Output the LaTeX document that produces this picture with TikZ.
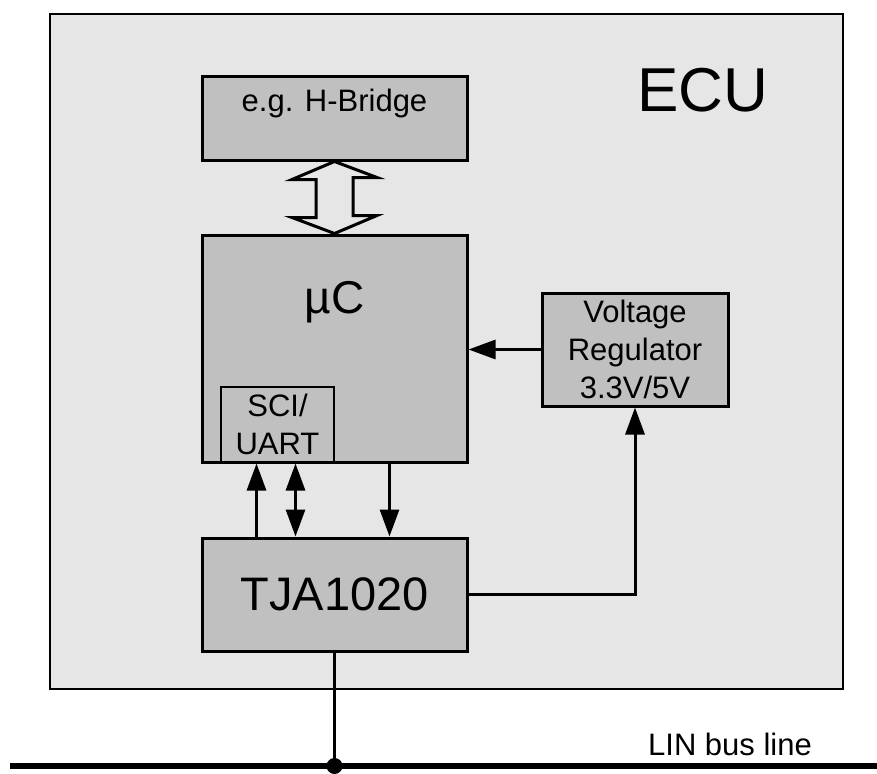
\documentclass[tikz,border=0pt]{standalone}
\usepackage{fontspec}
\setmainfont{Liberation Sans}
\usetikzlibrary{arrows.meta}
\definecolor{ecugray}{RGB}{230,230,230}
\definecolor{boxgray}{RGB}{192,192,192}

\begin{document}
\begin{tikzpicture}[x=1pt,y=-1pt,
    block/.style={draw,line width=3pt,fill=boxgray,inner sep=0pt},
    txt/.style={font=\fontsize{31}{38}\selectfont,align=center},
    arr/.style={line width=3pt,-{Triangle[length=27pt,width=19pt]}},
    darr/.style={line width=3pt,{Triangle[length=27pt,width=19pt]}-{Triangle[length=27pt,width=19pt]}}]
    \useasboundingbox (0,0) rectangle (877,773);
    \node[draw,line width=2pt,fill=ecugray,minimum width=793pt,minimum height=675pt] (ecu) at (446.5,351.5) {};
    \node[font=\fontsize{62}{70}\selectfont] (ecutext) at (703,90) {ECU};

    \node[block,minimum width=265pt,minimum height=83pt] (hbridge) at (334.5,118.5) {};
    \node[txt] (hbtext) at (334.5,103) {e.g. H-Bridge};

    \node[block,minimum width=265pt,minimum height=227pt] (uc) at (334.5,348.5) {};
    \node[font=\fontsize{46}{52}\selectfont] (uctext) at (334.5,302) {µC};
    \node[draw,line width=1.5pt,fill=boxgray,inner sep=0pt,minimum width=113pt,minimum height=75pt,txt] (sci) at (277.5,424.5) {SCI/\\UART};

    \node[block,txt,minimum width=186pt,minimum height=113pt] (reg) at (635,349.5) {Voltage\\Regulator\\3.3V/5V};
    \node[block,minimum width=265pt,minimum height=113pt,font=\fontsize{47}{52}\selectfont] (tja) at (334.5,594.5) {TJA1020};

    \draw[line width=3pt] (hbridge.south) -- ++(-42.5,18) -- ++(24,0) -- ++(0,38) -- ++(-24,0)
        -- (uc.north) -- ++(42.5,-18) -- ++(-24,0) -- ++(0,-38) -- ++(24,0) -- cycle;

    \draw[arr] (reg.west) -- (reg.west -| uc.east);
    \draw[arr] (tja.east) -| (reg.south);
    \draw[arr] ([xshift=56pt]tja.north west) -- ([xshift=56pt]uc.south west);
    \draw[darr] ([xshift=95pt]tja.north west) -- ([xshift=95pt]uc.south west);
    \draw[arr] ([xshift=189pt]uc.south west) -- ([xshift=189pt]tja.north west);

    \coordinate (busl) at (10,766);
    \coordinate (busr) at (877,766);
    \coordinate (tap) at (tja.south |- busl);
    \draw[line width=6pt] (busl) -- (busr);
    \draw[line width=3pt] (tja.south) -- (tap);
    \fill (tap) circle (8pt);
    \node[txt] (bustext) at (730,744) {LIN bus line};
\end{tikzpicture}
\end{document}
